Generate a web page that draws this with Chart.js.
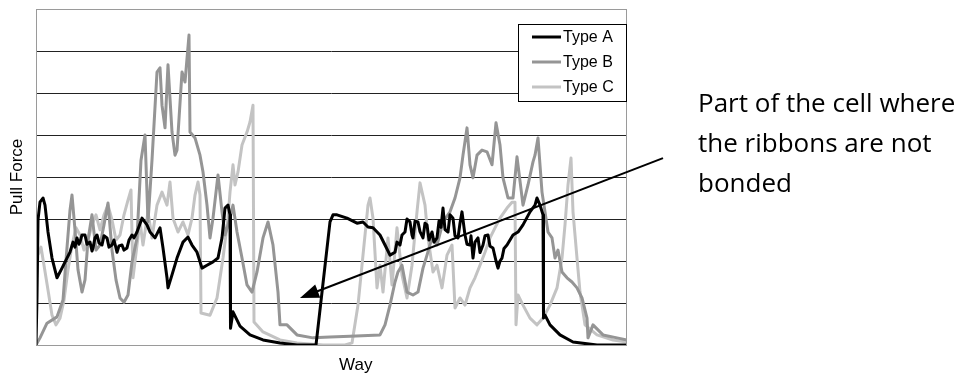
<!DOCTYPE html>
<html>
<head>
<meta charset="utf-8">
<script src="https://cdn.jsdelivr.net/npm/chart.js@4.4.1/dist/chart.umd.min.js"></script>
<style>
  html, body { margin: 0; padding: 0; background: #fff; }
  #wrap { position: relative; width: 957px; height: 374px; }
  #note {
    position: absolute; left: 698px; top: 82px;
    font-family: "Open Sans", sans-serif; font-size: 26px; line-height: 40px; color: #000;
    white-space: nowrap;
  }
</style>
</head>
<body>
<div id="wrap">
  <canvas id="chart" width="957" height="374"></canvas>
  <div id="note">Part of the cell where<br>the ribbons are not<br>bonded</div>
</div>
<script>
const seriesNames = ["Type A", "Type B", "Type C"]
const xTitle = "Way"
const yTitle = "Pull Force"

// Type A (black)
const wayA = [0, 1, 2, 4, 7, 9, 12, 16, 21, 26, 31, 34, 37, 39, 41, 43, 44, 46, 49, 51, 54, 56, 57, 59, 61, 63, 66, 68, 71, 73, 76, 78, 81, 83, 86, 88, 91, 93, 96, 98, 101, 106, 111, 114, 119, 124, 127, 131, 132, 136, 141, 147, 152, 156, 161, 166, 171, 177, 182, 186, 189, 192, 194, 194.5, 197, 204, 214, 227, 244, 261, 280, 294, 297, 301, 311, 321, 327, 332, 337, 344, 349, 354, 359, 361, 364, 366, 369, 371, 374, 376, 377, 379, 382, 384, 387, 389, 391, 393, 396, 398, 401, 403, 405, 407, 409, 412, 414, 417, 419, 422, 424, 426, 428, 429, 431, 434, 435, 437, 439, 442, 444, 447, 449, 452, 454, 457, 460, 462, 464, 466, 468, 471, 477, 482, 487, 494, 499, 501, 504, 507, 507.5, 509, 514, 524, 537, 561, 591]
const forceA = [0, 1.14, 2.98, 3.40, 3.50, 3.33, 2.69, 2.07, 1.60, 1.83, 2.07, 2.21, 2.45, 2.33, 2.55, 2.40, 2.45, 2.62, 2.62, 2.40, 2.45, 2.24, 2.31, 2.55, 2.62, 2.43, 2.38, 2.60, 2.55, 2.33, 2.38, 2.50, 2.21, 2.36, 2.38, 2.26, 2.31, 2.50, 2.62, 2.55, 2.69, 3.02, 2.86, 2.69, 2.55, 2.79, 2.31, 1.60, 1.36, 1.67, 2.07, 2.45, 2.57, 2.38, 2.21, 1.83, 1.90, 1.98, 2.07, 2.55, 3.26, 3.33, 3.10, 0.40, 0.79, 0.45, 0.24, 0.12, 0.05, 0, 0, 2.93, 3.10, 3.10, 3.02, 2.90, 2.93, 2.81, 2.79, 2.62, 2.38, 2.14, 2.21, 2.45, 2.38, 2.62, 2.69, 3.00, 2.93, 2.62, 2.55, 2.95, 2.93, 2.70, 2.55, 2.90, 2.86, 2.50, 2.69, 2.45, 2.55, 2.95, 2.80, 3.26, 2.75, 2.69, 3.10, 3.02, 2.60, 2.55, 2.90, 3.17, 2.80, 2.62, 2.40, 2.38, 2.60, 2.07, 2.45, 2.55, 2.20, 2.38, 2.60, 2.62, 2.35, 2.31, 2.00, 1.83, 2.00, 2.07, 2.30, 2.38, 2.62, 2.69, 2.86, 3.17, 3.33, 3.50, 3.33, 3.10, 0.64, 0.71, 0.48, 0.24, 0.07, 0, 0]

// Type B (mid grey)
const wayB = [0, 4, 11, 21, 27, 30, 34, 36, 39, 42, 46, 49, 52, 56, 60, 64, 68, 72, 76, 80, 84, 88, 92, 96, 101, 105, 109, 112, 116, 121, 124, 126, 129, 132, 136, 139, 141, 146, 149, 153, 154, 159, 164, 167, 171, 174, 177, 182, 186, 189, 194, 197, 201, 206, 211, 216, 221, 227, 232, 237, 242, 244, 251, 261, 277, 294, 314, 344, 349, 354, 359, 362, 366, 371, 377, 382, 387, 391, 396, 401, 407, 414, 419, 424, 427, 431, 434, 437, 441, 446, 451, 456, 460, 464, 467, 472, 477, 481, 487, 492, 497, 499, 502, 506, 509, 512, 516, 519, 522, 526, 531, 536, 541, 546, 551, 552, 557, 567, 581, 591]
const forceB = [0, 0.17, 0.52, 0.67, 1.07, 2.02, 3.21, 3.57, 2.74, 1.79, 1.26, 1.55, 2.50, 3.10, 2.26, 2.38, 2.86, 3.38, 2.26, 1.55, 1.12, 1.02, 1.19, 1.98, 2.55, 4.40, 5.00, 2.93, 4.40, 6.50, 6.60, 5.71, 5.17, 6.67, 5.07, 4.52, 4.64, 6.50, 6.26, 7.38, 5.07, 4.93, 4.52, 4.12, 3.33, 2.55, 3.02, 4.05, 3.17, 2.62, 3.02, 3.33, 2.69, 2.07, 1.43, 1.26, 1.74, 2.55, 2.93, 2.38, 1.26, 0.48, 0.48, 0.24, 0.17, 0.19, 0.21, 0.24, 0.48, 0.95, 1.50, 1.74, 1.90, 1.26, 1.19, 1.26, 1.83, 2.14, 2.55, 2.38, 2.93, 3.17, 3.50, 3.98, 4.52, 5.17, 4.29, 3.98, 4.52, 4.64, 4.60, 4.29, 5.29, 4.76, 3.98, 3.50, 3.50, 4.48, 3.33, 3.81, 4.36, 4.52, 4.93, 3.64, 3.17, 2.69, 2.55, 2.07, 2.26, 1.74, 1.60, 1.50, 1.36, 1.12, 0.64, 0.17, 0.48, 0.24, 0.17, 0.12]

// Type C (light grey)
const wayC = [0, 2, 5, 8, 12, 16, 20, 24, 28, 32, 36, 40, 44, 48, 52, 56, 60, 64, 68, 72, 76, 80, 84, 88, 92, 95, 97, 101, 104, 107, 112, 116, 121, 126, 131, 134, 137, 142, 147, 152, 156, 159, 162, 164, 165, 174, 181, 187, 192, 194, 197, 199, 202, 206, 211, 214, 217, 218, 227, 244, 261, 287, 309, 316, 322, 327, 332, 334, 337, 341, 344, 347, 352, 356, 361, 366, 371, 376, 381, 384, 389, 392, 397, 401, 406, 411, 416, 419, 424, 429, 434, 439, 444, 449, 454, 459, 464, 471, 476, 479, 480, 482, 487, 494, 501, 507, 514, 521, 526, 529, 532, 535, 537, 541, 544, 549, 561, 577, 591]
const forceC = [1.38, 2.14, 2.33, 1.90, 1.31, 0.71, 0.48, 0.64, 1.07, 1.79, 2.38, 2.79, 2.62, 2.26, 2.50, 2.86, 3.10, 2.74, 3.10, 3.33, 2.98, 2.50, 2.62, 3.10, 3.45, 3.69, 1.60, 2.38, 2.93, 2.38, 3.17, 2.55, 3.33, 3.64, 3.33, 3.88, 3.02, 2.69, 2.93, 2.62, 3.02, 3.57, 3.88, 3.57, 0.76, 0.71, 1.12, 2.07, 3.02, 3.64, 4.29, 3.81, 4.12, 4.76, 5.07, 5.31, 5.71, 0.55, 0.31, 0.12, 0.05, 0, 0, 0.05, 0.95, 2.14, 3.33, 3.50, 3.02, 1.36, 1.90, 1.26, 2.55, 1.43, 2.79, 1.67, 1.12, 1.90, 3.17, 3.86, 3.33, 2.55, 1.74, 1.90, 1.36, 2.14, 2.38, 0.88, 1.12, 0.95, 1.36, 1.60, 1.90, 2.21, 2.55, 2.79, 3.02, 3.26, 3.40, 3.40, 0.48, 1.19, 0.95, 0.64, 0.48, 0.64, 0.95, 1.36, 2.07, 2.86, 3.81, 4.45, 3.17, 2.07, 1.26, 0.48, 0.24, 0.12, 0.07]

const colors = ["#000000", "#959595", "#c3c3c3"]
const widths = [3, 3, 3]

// arrow: tail outside the plot, tip on the unbonded region
const arrowFrom = { way: 627, force: 4.45 }
const arrowTo = { way: 264, force: 1.12 }

const toPoints = (xs, ys) => xs.map((x, i) => ({ x, y: ys[i] }))
const labelFont = "17px 'Liberation Sans', Arial, sans-serif"

const decor = {
  id: "decor",
  afterDraw(chart) {
    const { ctx, chartArea: a, scales } = chart
    ctx.save()

    // plot frame
    ctx.strokeStyle = "#9a9a9a"
    ctx.lineWidth = 1
    ctx.strokeRect(Math.round(a.left) + 0.5, Math.round(a.top) + 0.5,
      Math.round(a.right - a.left) - 1, Math.round(a.bottom - a.top))

    // axis titles
    ctx.fillStyle = "#000"
    ctx.font = labelFont
    ctx.textAlign = "center"
    ctx.textBaseline = "middle"
    ctx.fillText(xTitle, a.left + (a.right - a.left) * 0.541, a.bottom + 20)
    ctx.save()
    ctx.translate(17, (a.top + a.bottom) / 2)
    ctx.rotate(-Math.PI / 2)
    ctx.fillText(yTitle, 0, 0)
    ctx.restore()

    // legend box in the upper right corner of the plot
    const bx = Math.round(a.right) - 109, by = Math.round(a.top) + 15
    ctx.fillStyle = "#fff"
    ctx.fillRect(bx, by, 109, 78)
    ctx.strokeStyle = "#000"
    ctx.lineWidth = 1
    ctx.strokeRect(bx + 0.5, by + 0.5, 108, 77)
    ctx.font = "16px 'Liberation Sans', Arial, sans-serif"
    ctx.textAlign = "left"
    seriesNames.forEach((name, i) => {
      const ly = by + 13 + i * 25
      ctx.strokeStyle = colors[i]
      ctx.lineWidth = 3
      ctx.beginPath()
      ctx.moveTo(bx + 14, ly)
      ctx.lineTo(bx + 43, ly)
      ctx.stroke()
      ctx.fillStyle = "#000"
      ctx.fillText(name, bx + 45, ly + 1)
    })

    // arrow
    const x0 = scales.x.getPixelForValue(arrowFrom.way)
    const y0 = scales.y.getPixelForValue(arrowFrom.force)
    const x1 = scales.x.getPixelForValue(arrowTo.way)
    const y1 = scales.y.getPixelForValue(arrowTo.force)
    const ang = Math.atan2(y1 - y0, x1 - x0)
    const len = 19, half = 7
    ctx.strokeStyle = "#000"
    ctx.lineWidth = 2
    ctx.beginPath()
    ctx.moveTo(x0, y0)
    ctx.lineTo(x1 - Math.cos(ang) * len * 0.8, y1 - Math.sin(ang) * len * 0.8)
    ctx.stroke()
    ctx.fillStyle = "#000"
    ctx.beginPath()
    ctx.moveTo(x1, y1)
    ctx.lineTo(x1 - Math.cos(ang) * len - Math.sin(ang) * half, y1 - Math.sin(ang) * len + Math.cos(ang) * half)
    ctx.lineTo(x1 - Math.cos(ang) * len + Math.sin(ang) * half, y1 - Math.sin(ang) * len - Math.cos(ang) * half)
    ctx.closePath()
    ctx.fill()

    ctx.restore()
  },
}

new Chart(document.getElementById("chart"), {
  type: "line",
  data: {
    datasets: [
      { label: seriesNames[0], data: toPoints(wayA, forceA) },
      { label: seriesNames[1], data: toPoints(wayB, forceB) },
      { label: seriesNames[2], data: toPoints(wayC, forceC) },
    ].map((ds, i) => ({
      ...ds,
      borderColor: colors[i],
      backgroundColor: colors[i],
      borderWidth: widths[i],
      pointRadius: 0,
      tension: 0,
      borderJoinStyle: "round",
      fill: false,
    })),
  },
  options: {
    responsive: false,
    animation: false,
    layout: { padding: { left: 36, top: 9, right: 330, bottom: 29 } },
    plugins: { legend: { display: false }, tooltip: { enabled: false } },
    scales: {
      x: {
        type: "linear",
        min: 0,
        max: 591,
        grid: { display: false, drawTicks: false },
        border: { display: false },
        ticks: { display: false },
      },
      y: {
        min: 0,
        max: 8,
        grid: {
          drawTicks: false,
          color: (c) => (c.tick.value === 0 || c.tick.value === 8 ? "#9a9a9a" : "#222"),
        },
        border: { display: false },
        ticks: { display: false, stepSize: 1 },
      },
    },
  },
  plugins: [decor],
})
</script>
</body>
</html>
